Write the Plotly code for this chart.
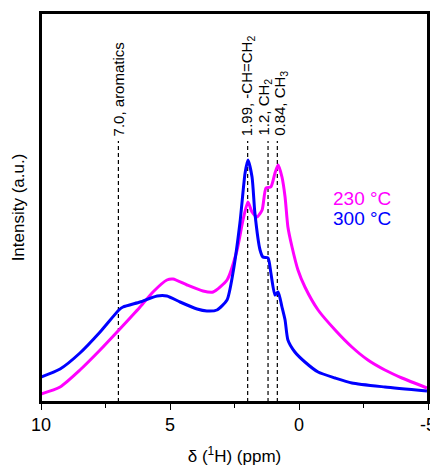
import plotly.graph_objects as go

# 230 °C spectrum (magenta)
ppm_230 = [10.00, 9.26, 8.49, 7.71, 6.98, 6.16, 5.66, 5.12, 4.88, 4.34, 3.72, 3.33, 2.79, 2.40,
           2.17, 1.98, 1.82, 1.63, 1.43, 1.28, 1.09, 0.93, 0.81, 0.66, 0.54, 0.43, 0.27, 0.04,
           -0.23, -0.74, -1.40, -2.05, -2.67, -3.33, -3.99, -4.96]
int_230 = [8, 15, 32, 52, 72, 95, 110, 122, 123, 117, 111, 110, 122, 152,
           182, 200, 190, 185, 192, 214, 215, 229, 237, 225, 205, 175, 155, 132,
           115, 92, 72, 55, 42, 32, 24, 14]

# 300 °C spectrum (blue)
ppm_300 = [10.00, 9.26, 8.49, 7.71, 6.98, 6.82, 6.16, 5.50, 5.12, 4.61, 3.95, 3.57, 3.18, 2.79,
           2.56, 2.29, 2.09, 1.98, 1.82, 1.71, 1.51, 1.40, 1.20, 1.09, 0.93, 0.81, 0.66, 0.54,
           0.43, 0.16, -0.23, -0.74, -1.40, -2.05, -3.33, -4.96]
int_300 = [25, 33, 49, 70, 92, 95, 100, 106, 106, 100, 93, 91, 92, 102,
           129, 179, 229, 242, 225, 189, 152, 145, 144, 129, 107, 110, 95, 82,
           62, 50, 40, 30, 24, 19, 15, 11]

# Peak assignments
peak_pos = [7.0, 1.99, 1.2, 0.84]
peak_labels = ["7.0, aromatics", "1.99, -CH=CH<sub>2</sub>", "1.2, CH<sub>2</sub>", "0.84, CH<sub>3</sub>"]
peak_label_shift = [0, 0, -4, 3]

series_names = ["230 °C", "300 °C"]
series_colors = ["#FF00FF", "#0000FF"]

x_ticks = [10, 5, 0, -5]

Y_MAX = 389
LABEL_BASE = 264

fig = go.Figure()

for xp in peak_pos:
    fig.add_trace(go.Scatter(x=[xp, xp], y=[0, LABEL_BASE - 3], mode="lines",
                             line=dict(color="black", width=1.2, dash="4px,3px"),
                             showlegend=False, hoverinfo="skip"))

fig.add_trace(go.Scatter(x=ppm_230, y=int_230, mode="lines", name=series_names[0],
                         line=dict(color=series_colors[0], width=3, shape="spline", smoothing=0.6),
                         showlegend=False))
fig.add_trace(go.Scatter(x=ppm_300, y=int_300, mode="lines", name=series_names[1],
                         line=dict(color=series_colors[1], width=3, shape="spline", smoothing=0.6),
                         showlegend=False))

for xp, lab, sh in zip(peak_pos, peak_labels, peak_label_shift):
    fig.add_annotation(x=xp, y=LABEL_BASE, text=lab, textangle=-90, showarrow=False,
                       xanchor="center", yanchor="bottom", xshift=sh,
                       font=dict(family="Liberation Sans, Arial", size=15, color="black"))

for i, (nm, col) in enumerate(zip(series_names, series_colors)):
    fig.add_annotation(xref="paper", yref="paper", x=0.75, y=0.524 - i * 0.052, text=nm,
                       showarrow=False, xanchor="left", yanchor="middle",
                       font=dict(family="Liberation Sans, Arial", size=19, color=col))

# plot frame
fig.add_shape(type="rect", xref="x domain", yref="y domain", x0=0, y0=0, x1=1, y1=1,
              line=dict(color="black", width=2), fillcolor="rgba(0,0,0,0)", layer="above")

# page body has an 8px margin, so the figure is sized to fit the 438x466 window
fig.update_layout(
    width=430, height=458,
    margin=dict(l=33, r=10, t=5, b=64, autoexpand=False),
    plot_bgcolor="white", paper_bgcolor="white",
    font=dict(family="Liberation Sans, Arial", color="black"),
    xaxis=dict(range=[10, -5], tickvals=x_ticks, ticktext=[str(v) for v in x_ticks],
               ticks="outside", ticklen=6, tickwidth=1.3, tickcolor="black",
               minor=dict(dtick=2.5, tick0=0, ticks="outside", ticklen=4, tickwidth=1.3, tickcolor="black"),
               showline=True, linecolor="black", linewidth=1.6, mirror=True,
               showgrid=False, zeroline=False, automargin=False,
               tickfont=dict(size=18),
               title=dict(text="δ (<sup>1</sup>H) (ppm)", font=dict(size=17), standoff=20)),
    yaxis=dict(range=[0, Y_MAX], showticklabels=False, ticks="",
               showline=True, linecolor="black", linewidth=1.6, mirror=True,
               showgrid=False, zeroline=False, automargin=False,
               title=dict(text="Intensity (a.u.)", font=dict(size=17), standoff=10)),
)

fig.write_html("out.html")
